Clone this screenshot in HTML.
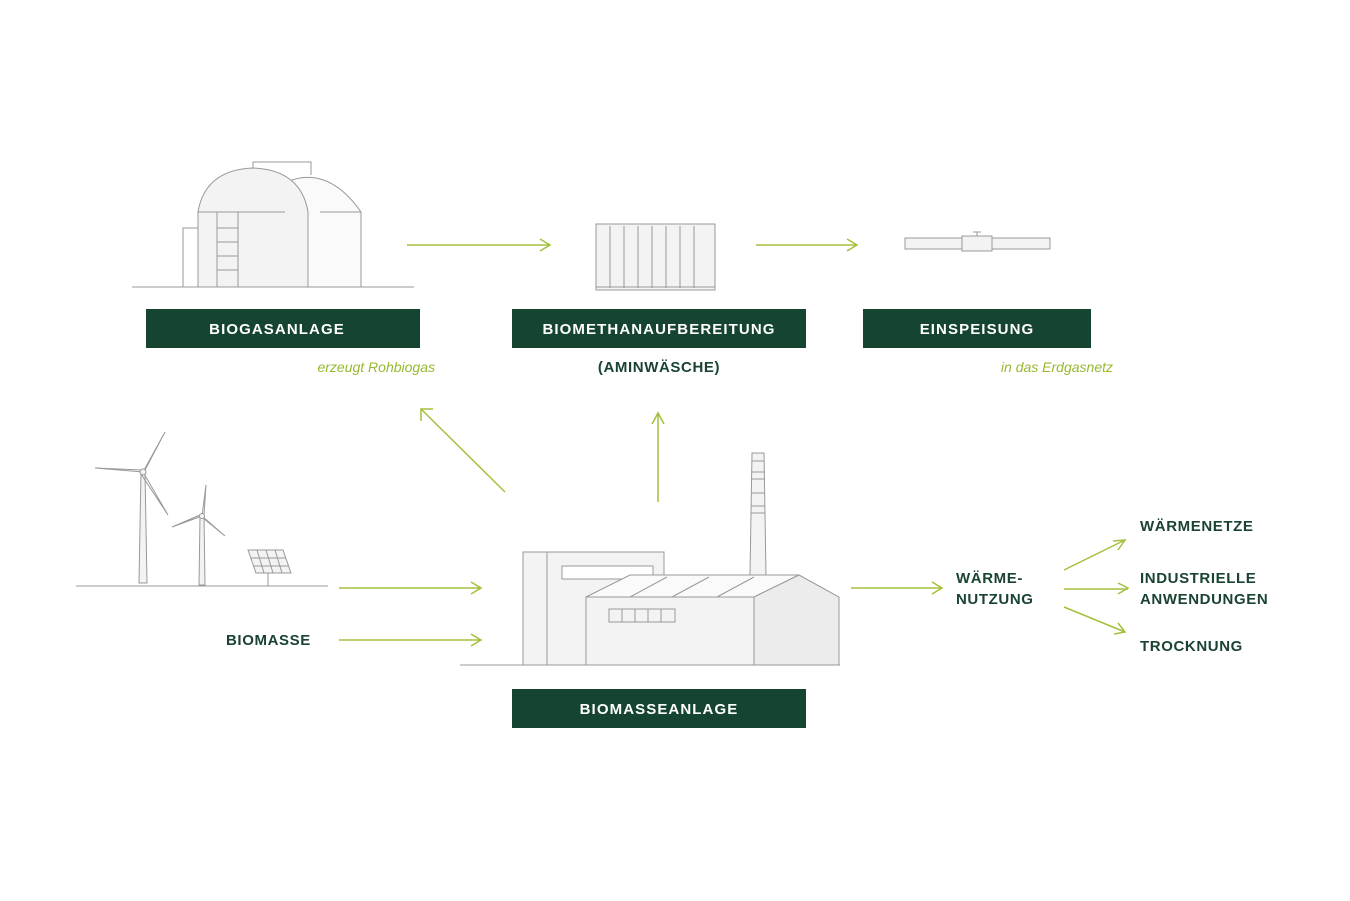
<!DOCTYPE html>
<html><head><meta charset="utf-8"><style>
html,body{margin:0;padding:0;background:#fff;}
svg{display:block;}
.lb{font-family:"Liberation Sans",sans-serif;font-weight:bold;font-size:15px;fill:#fff;letter-spacing:1.1px;}
.dk{font-family:"Liberation Sans",sans-serif;font-weight:bold;font-size:15px;fill:#1a4332;letter-spacing:0.6px;}
.gn{font-family:"Liberation Sans",sans-serif;font-style:italic;font-size:14px;fill:#98b830;}
.s{fill:#f3f3f3;stroke:#999;stroke-width:1;}
.l{fill:none;stroke:#999;stroke-width:1;}
.a{fill:none;stroke:#a3c03c;stroke-width:1.5;}
</style></head><body>
<svg width="1350" height="901" viewBox="0 0 1350 901">
<!-- biogas -->
<line class="l" x1="132" y1="287" x2="414" y2="287"/>
<path class="l" d="M253 168V162H311V175"/>
<path class="s" d="M292 180 Q330 168 361 212 L361 287 L292 287Z" style="fill:#fafafa"/>
<path class="s" d="M198 212 Q205 170 253 168 Q301 170 308 212 L308 287 L198 287Z"/>
<line class="l" x1="198" y1="212" x2="285" y2="212"/>
<line class="l" x1="320" y1="212" x2="361" y2="212"/>
<path class="l" d="M183 287 V228 H198"/>
<rect class="l" x="217" y="212" width="21" height="75"/>
<path class="l" d="M217 228H238M217 242H238M217 256H238M217 270H238"/>
<!-- container -->
<rect class="s" x="596" y="224" width="119" height="66"/>
<path class="l" d="M610 226V288M624 226V288M638 226V288M652 226V288M666 226V288M680 226V288M694 226V288M596 287H715"/>
<!-- pipe -->
<rect class="s" x="905" y="238" width="145" height="11"/>
<rect class="s" x="962" y="236" width="30" height="15"/>
<path class="l" d="M977 236V232M973 232H981"/>
<!-- labels -->
<rect x="146" y="309" width="274" height="39" fill="#154531"/>
<text class="lb" x="277" y="334" text-anchor="middle">BIOGASANLAGE</text>
<rect x="512" y="309" width="294" height="39" fill="#154531"/>
<text class="lb" x="659" y="334" text-anchor="middle">BIOMETHANAUFBEREITUNG</text>
<rect x="863" y="309" width="228" height="39" fill="#154531"/>
<text class="lb" x="977" y="334" text-anchor="middle">EINSPEISUNG</text>
<rect x="512" y="689" width="294" height="39" fill="#154531"/>
<text class="lb" x="659" y="714" text-anchor="middle">BIOMASSEANLAGE</text>
<text class="gn" x="435" y="372" text-anchor="end">erzeugt Rohbiogas</text>
<text class="dk" x="659" y="372" text-anchor="middle">(AMINWÄSCHE)</text>
<text class="gn" x="1113" y="372" text-anchor="end">in das Erdgasnetz</text>
<!-- arrows -->
<g class="a">
<path d="M407 245H550M540 239L550 245L540 251"/>
<path d="M756 245H857M847 239L857 245L847 251"/>
<path d="M505 492L421 409M421 421L421 409L433 409"/>
<path d="M658 502V413M652 424L658 413L664 424"/>
<path d="M339 588H481M471 582L481 588L471 594"/>
<path d="M339 640H481M471 634L481 640L471 646"/>
<path d="M851 588H942M932 582L942 588L932 594"/>
<path d="M1064 570L1125 540M1113 541L1125 540L1118 550"/>
<path d="M1064 589H1128M1118 583L1128 588L1118 594"/>
<path d="M1064 607L1125 632M1114 634L1125 632L1118 623"/>
</g>
<!-- wind -->
<line class="l" x1="76" y1="586" x2="328" y2="586"/>
<path class="s" d="M141 472 L145 472 L147 583 L139 583Z"/>
<path class="l" d="M143 472L95 468L143 470M143 472L165 432L145 470M143 472L168 515L141 474"/>
<circle class="s" cx="143" cy="472" r="3"/>
<path class="s" d="M200 516 L204 516 L205 585 L199 585Z"/>
<path class="l" d="M202 516L172 527L200 515M202 516L206 485L204 515M202 516L225 536L203 518"/>
<circle class="s" cx="202" cy="516" r="2.5"/>
<path class="s" d="M248 550H283L291 573H256Z"/>
<path class="l" d="M257 550L264 573M266 550L273 573M275 550L282 573M251 558H286M253 566H289M268 573V586"/>
<!-- factory -->
<line class="l" x1="460" y1="665" x2="840" y2="665"/>
<rect class="s" x="523" y="552" width="141" height="113"/>
<line class="l" x1="547" y1="552" x2="547" y2="665"/>
<rect class="s" x="562" y="566" width="91" height="13" style="fill:#fff"/>
<path class="s" d="M750 575L752 453H764L766 575Z"/>
<path class="l" d="M752 461H764M751 472H765M751 479H765M751 493H765M751 506H765M751 513H765"/>
<path class="s" d="M586 597L630 575H799L754 597Z" style="fill:#fafafa"/>
<path class="l" d="M630 597L667 577M672 597L709 577M717 597L754 577"/>
<rect class="s" x="586" y="597" width="168" height="68"/>
<path class="s" d="M754 597L799 575L839 597V665H754Z" style="fill:#ececec"/>
<rect class="l" x="609" y="609" width="66" height="13"/>
<path class="l" d="M622 609V622M635 609V622M648 609V622M661 609V622"/>
<!-- texts -->
<text class="dk" x="226" y="645">BIOMASSE</text>
<text class="dk" x="956" y="583">WÄRME-</text>
<text class="dk" x="956" y="604">NUTZUNG</text>
<text class="dk" x="1140" y="531">WÄRMENETZE</text>
<text class="dk" x="1140" y="583">INDUSTRIELLE</text>
<text class="dk" x="1140" y="604">ANWENDUNGEN</text>
<text class="dk" x="1140" y="651">TROCKNUNG</text>
</svg>
</body></html>
